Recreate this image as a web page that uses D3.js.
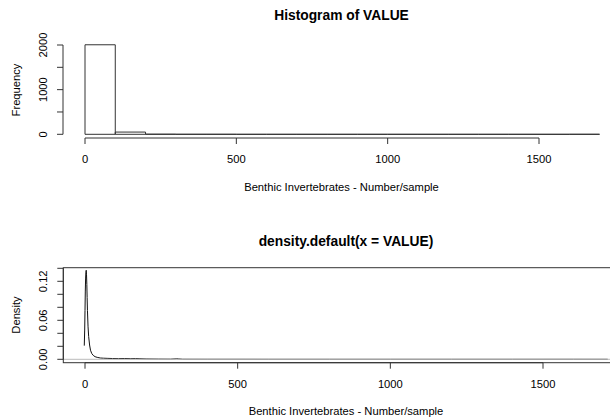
<!DOCTYPE html>
<html>
<head>
<meta charset="utf-8">
<script src="https://cdn.jsdelivr.net/npm/d3@7"></script>
<style>
  body { margin: 0; background: #fff; }
  svg { display: block; }
  text { font-family: "Liberation Sans", Arial, sans-serif; fill: #000; }
</style>
</head>
<body>
<svg id="chart" width="610" height="420"></svg>
<script>
// Histogram of VALUE: bins of width 100 from 0 to 1700
const binEdges = [0, 100, 200, 300, 400, 500, 600, 700, 800, 900, 1000, 1100, 1200, 1300, 1400, 1500, 1600, 1700];
const binCounts = [2005, 50, 3, 1, 1, 0, 0, 0, 0, 0, 0, 0, 0, 0, 0, 0, 1];
const histXTicks = [0, 500, 1000, 1500];
const histYTicks = [0, 500, 1000, 1500, 2000];
const histYLabels = [0, 1000, 2000];

// Kernel density estimate of VALUE
const densX = [-2.4, -1, 0, 1, 2, 3, 4, 5, 6, 7, 8, 10, 12, 15, 18, 22, 27, 33, 40, 50, 60, 75, 90, 110, 130, 150, 165, 180, 200, 240, 280, 295, 300, 305, 320, 400, 600, 800, 1000, 1200, 1400, 1600, 1712];
const densY = [0.021, 0.045, 0.075, 0.105, 0.125, 0.134, 0.137, 0.13, 0.115, 0.095, 0.075, 0.05, 0.035, 0.022, 0.014, 0.009, 0.006, 0.004, 0.003, 0.002, 0.0017, 0.0014, 0.0012, 0.001, 0.0012, 0.0009, 0.0011, 0.0008, 0.0005, 0.0003, 0.0002, 0.0006, 0.0009, 0.0006, 0.0001, 0.00005, 0, 0, 0, 0, 0, 0.00002, 0];
const densXTicks = [0, 500, 1000, 1500];
const densYTicks = [0, 0.02, 0.04, 0.06, 0.08, 0.10, 0.12, 0.14];
const densYLabels = [0, 0.06, 0.12];

const xTitle = "Benthic Invertebrates - Number/sample";
const svg = d3.select("#chart");
const ink = "#333";
const tickFont = 11.2;

function leftAxis(g, y, ticks, labels, fmt, xLine) {
  g.append("line").attr("x1", xLine).attr("x2", xLine)
    .attr("y1", y(ticks[0])).attr("y2", y(ticks[ticks.length - 1]))
    .attr("stroke", ink);
  g.selectAll(".yt").data(ticks).join("line")
    .attr("x1", xLine - 6).attr("x2", xLine)
    .attr("y1", d => y(d)).attr("y2", d => y(d)).attr("stroke", ink);
  g.selectAll(".yl").data(labels).join("text")
    .attr("transform", d => `translate(47,${y(d)}) rotate(-90)`)
    .attr("text-anchor", "middle").attr("font-size", tickFont)
    .text(fmt);
}

function bottomAxis(g, x, ticks, yLine) {
  g.append("line").attr("x1", x(ticks[0])).attr("x2", x(ticks[ticks.length - 1]))
    .attr("y1", yLine).attr("y2", yLine).attr("stroke", ink);
  g.selectAll(".xt").data(ticks).join("line")
    .attr("x1", d => x(d)).attr("x2", d => x(d))
    .attr("y1", yLine).attr("y2", yLine + 6).attr("stroke", ink);
  g.selectAll(".xl").data(ticks).join("text")
    .attr("x", d => x(d)).attr("y", yLine + 25)
    .attr("text-anchor", "middle").attr("font-size", tickFont)
    .text(d => d);
}

// ---------- Histogram ----------
const hx = d3.scaleLinear().domain([0, 1500]).range([85, 539]);
const hy = d3.scaleLinear().domain([0, 2000]).range([134.3, 45]);
const hg = svg.append("g");

// each bar is an outlined path so that empty bins still show along the baseline
const bins = binCounts.map((c, i) => ({ lo: binEdges[i], hi: binEdges[i + 1], c }));
hg.selectAll("path.bar").data(bins).join("path").attr("class", "bar")
  .attr("d", d => `M${hx(d.lo)},${hy(0)}V${hy(d.c)}H${hx(d.hi)}V${hy(0)}Z`)
  .attr("fill", "none").attr("stroke", ink).attr("stroke-width", 1);

leftAxis(hg, hy, histYTicks, histYLabels, d => d, 63);
bottomAxis(hg, hx, histXTicks, 138);

hg.append("text").attr("x", 341.5).attr("y", 20).attr("text-anchor", "middle")
  .attr("font-size", 13.8).attr("font-weight", "bold").text("Histogram of VALUE");
hg.append("text").attr("x", 341.5).attr("y", 191).attr("text-anchor", "middle")
  .attr("font-size", tickFont).text(xTitle);
hg.append("text").attr("transform", "translate(20,90) rotate(-90)")
  .attr("text-anchor", "middle").attr("font-size", tickFont).text("Frequency");

// ---------- Density ----------
const dx = d3.scaleLinear().domain([0, 1500]).range([85, 543]);
const dy = d3.scaleLinear().domain([0, 0.14]).range([359.3, 268.3]);
const dg = svg.append("g");
const boxL = 63.3, boxR = 630, boxT = 267.7, boxB = 362.7;

const dens = densX.map((v, i) => [v, densY[i]]);
dg.append("path").datum(dens)
  .attr("d", d3.line().x(d => dx(d[0])).y(d => dy(d[1])))
  .attr("fill", "none").attr("stroke", "#111").attr("stroke-width", 1);

// zero reference line, drawn over the curve
dg.append("line").attr("x1", boxL).attr("x2", boxR)
  .attr("y1", dy(0)).attr("y2", dy(0)).attr("stroke", "#bbb").attr("stroke-width", 1);

// plot frame
dg.append("rect").attr("x", boxL).attr("y", boxT)
  .attr("width", boxR - boxL).attr("height", boxB - boxT)
  .attr("fill", "none").attr("stroke", ink);

leftAxis(dg, dy, densYTicks, densYLabels, d => d.toFixed(2), boxL);
bottomAxis(dg, dx, densXTicks, boxB);

dg.append("text").attr("x", 346).attr("y", 246).attr("text-anchor", "middle")
  .attr("font-size", 13.8).attr("font-weight", "bold").text("density.default(x = VALUE)");
dg.append("text").attr("x", 346).attr("y", 415).attr("text-anchor", "middle")
  .attr("font-size", tickFont).text(xTitle);
dg.append("text").attr("transform", "translate(20,315) rotate(-90)")
  .attr("text-anchor", "middle").attr("font-size", tickFont).text("Density");
</script>
</body>
</html>
